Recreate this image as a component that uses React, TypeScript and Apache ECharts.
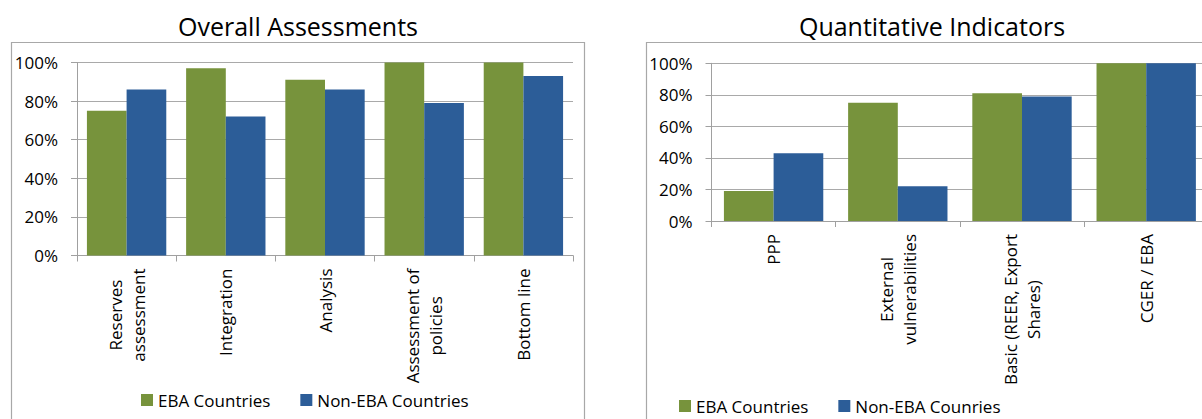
import React, { useEffect, useRef } from 'react';
import * as echarts from 'echarts';

const leftTitle = 'Overall Assessments';
const rightTitle = 'Quantitative Indicators';
const leftCategories = ['Reserves\nassessment', 'Integration', 'Analysis', 'Assessment of\npolicies', 'Bottom line'];
const leftEba = [75, 97, 91, 100, 100];
const leftNonEba = [86, 72, 86, 79, 93];
const rightCategories = ['PPP', 'External\nvulnerabilities', 'Basic (REER, Export\nShares)', 'CGER / EBA'];
const rightEba = [19, 75, 81, 100];
const rightNonEba = [43, 22, 79, 100];
const leftSeriesNames = ['EBA Countries', 'Non-EBA Countries'];
const rightSeriesNames = ['EBA Countries', 'Non-EBA Counries'];

const FONT = "'Open Sans', 'Noto Sans', sans-serif";
const GREEN = '#77933c';
const BLUE = '#2c5d98';
const AXIS = '#a0a0a0';
const GRID = '#a9a9a9';
const BORDER = '#a8a8a8';

function xAxis(gridIndex: number, data: string[]) {
  return {
    type: 'category',
    gridIndex,
    data,
    axisLine: { lineStyle: { color: AXIS, width: 1 } },
    axisTick: { show: true, length: 6, lineStyle: { color: AXIS } },
    axisLabel: {
      interval: 0,
      rotate: 90,
      margin: 13,
      formatter: (v: string) => v.split('\n').map((l) => `{c|${l}}`).join('\n'),
      rich: {
        c: { fontSize: 17, fontFamily: FONT, color: '#000', lineHeight: 23, align: 'center' },
      },
    },
  };
}

function yAxis(gridIndex: number) {
  return {
    type: 'value',
    gridIndex,
    min: 0,
    max: 100,
    interval: 20,
    axisLine: { show: true, lineStyle: { color: AXIS, width: 1 } },
    axisTick: { show: true, length: 6, lineStyle: { color: AXIS } },
    splitLine: { show: true, lineStyle: { color: GRID, width: 1 } },
    axisLabel: { formatter: '{value}%', fontSize: 17, fontFamily: FONT, color: '#000', margin: 19 },
  };
}

function bar(name: string, idx: number, data: number[], color: string) {
  return {
    type: 'bar',
    name,
    xAxisIndex: idx,
    yAxisIndex: idx,
    data,
    barWidth: '40%',
    barGap: '0%',
    itemStyle: { color },
  };
}

function legend(left: number, top: number, data: string[]) {
  return {
    left,
    top,
    itemWidth: 12,
    itemHeight: 12,
    itemGap: 30,
    icon: 'rect',
    data,
    textStyle: { fontSize: 17, fontFamily: FONT, color: '#000' },
  };
}

export default function App() {
  const ref = useRef<HTMLDivElement>(null);
  useEffect(() => {
    if (!ref.current) return;
    const chart = echarts.init(ref.current, undefined, { renderer: 'svg' });
    chart.setOption({
      animation: false,
      backgroundColor: '#fff',
      grid: [
        { left: 77, top: 62.5, width: 496, height: 193, outerBoundsMode: 'none', containLabel: false },
        { left: 711.5, top: 63.3, width: 496.8, height: 157.7, outerBoundsMode: 'none', containLabel: false },
      ],
      xAxis: [xAxis(0, leftCategories), xAxis(1, rightCategories)],
      yAxis: [yAxis(0), yAxis(1)],
      legend: [legend(136, 386.5, leftSeriesNames), legend(674, 392.5, rightSeriesNames)],
      series: [
        bar(leftSeriesNames[0], 0, leftEba, GREEN),
        bar(leftSeriesNames[1], 0, leftNonEba, BLUE),
        bar(rightSeriesNames[0], 1, rightEba, GREEN),
        bar(rightSeriesNames[1], 1, rightNonEba, BLUE),
      ],
      graphic: [
        { type: 'rect', z: -1, shape: { x: 11.5, y: 42.5, width: 573, height: 420 }, style: { fill: 'none', stroke: BORDER, lineWidth: 1.2 } },
        { type: 'rect', z: -1, shape: { x: 646.5, y: 42.5, width: 573, height: 420 }, style: { fill: 'none', stroke: BORDER, lineWidth: 1.2 } },
        { type: 'text', x: 298, y: 26, style: { text: leftTitle, fontSize: 25, fontFamily: FONT, fill: '#000', textAlign: 'center', textVerticalAlign: 'middle' } },
        { type: 'text', x: 932, y: 26, style: { text: rightTitle, fontSize: 25, fontFamily: FONT, fill: '#000', textAlign: 'center', textVerticalAlign: 'middle' } },
      ],
    });
    return () => chart.dispose();
  }, []);
  return <div ref={ref} style={{ position: 'fixed', left: 0, top: 0, width: 1202, height: 419 }} />;
}
